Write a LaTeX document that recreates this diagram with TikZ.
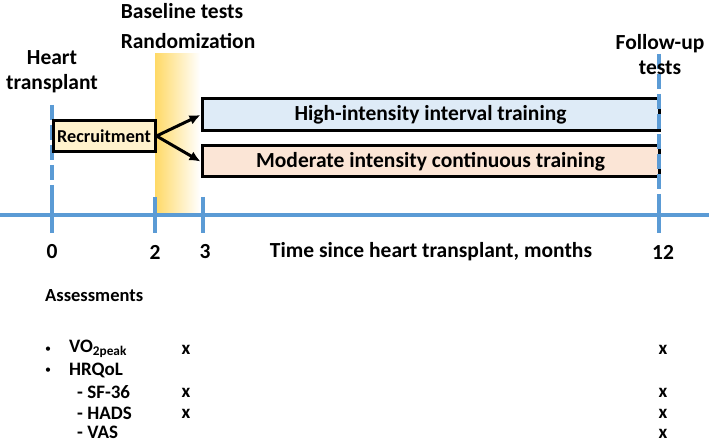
\documentclass[tikz,border=0pt]{standalone}
\usepackage{fontspec}
\setmainfont{Carlito}
\usepackage{xcolor}
\usetikzlibrary{arrows.meta}
\definecolor{achsblau}{HTML}{5B9BD5}
\definecolor{rekrugelb}{HTML}{FFF2CC}
\definecolor{hiitblau}{HTML}{DEEBF7}
\definecolor{mictrosa}{HTML}{FBE5D6}
\definecolor{bandgelb}{HTML}{FFD966}

\begin{document}
\begin{tikzpicture}[x=1pt, y=-1pt,
    >={Latex[length=11pt, width=10pt]},   %Pfeilspitzen
    achse/.style={achsblau, line width=4pt},
    strich/.style={achsblau, line width=4pt, dash pattern=on 15pt off 5pt},
    kasten/.style={draw=black, line width=3pt, inner sep=0pt, font=\fontsize{21.5}{25}\selectfont\bfseries},
    gross/.style={font=\fontsize{21.5}{25}\selectfont\bfseries, inner sep=0pt, align=center},
    klein/.style={font=\fontsize{19}{22}\selectfont\bfseries, inner sep=0pt, anchor=west},
    punkt/.style={font=\fontsize{12}{14}\selectfont, inner sep=0pt}]
    \useasboundingbox (0,0) rectangle (709,443);
    %Randomisierungsband
    \shade[left color=bandgelb, right color=white] (155,54) rectangle (200,213);
    %Zeitachse zeichnen
    \draw[strich] (52,105) -- (52,197);
    \draw[achse] (0,215) -- (709,215);
    \foreach \x in {52,155,203,659} \draw[achse] (\x,197) -- (\x,233);
    % Achse beschriften
    \foreach \x/\t in {52/0,155/2,205/3,663/12} \node[gross] (t\t) at (\x,252) {\t};
    \node[gross] (zeit) at (431,252) {Time since heart transplant, months};
    % Kaesten
    \node[kasten, fill=rekrugelb, minimum width=102pt, minimum height=31pt, font=\fontsize{18.2}{22}\selectfont\bfseries] (rekru) at (104,136) {\raisebox{-1pt}{Recruitment}};
    \node[kasten, fill=hiitblau, minimum width=457pt, minimum height=32pt] (hiit) at (430.5,115) {\raisebox{-4pt}{High-intensity interval training}};
    \node[kasten, fill=mictrosa, minimum width=457pt, minimum height=31pt] (mict) at (430.5,161.5) {\raisebox{-3pt}{Moderate intensity continuous training}};
    \draw[->, line width=3pt] (rekru.east) -- (hiit.west);
    \draw[->, line width=3pt] (rekru.east) -- (mict.west);
    \draw[strich] (659,54) -- (659,197);
    %Beschriftung oben
    \node[gross] (herz) at (52,72) {Heart\\transplant};
    \node[gross] (base) at (182,11) {Baseline tests};
    \node[gross] (rand) at (188,41) {Randomization};
    \node[gross] (folge) at (660,55) {Follow-up\\tests};
    %Untersuchungen
    \node[klein, font=\fontsize{18.5}{22}\selectfont\bfseries] (unters) at (45,296) {Assessments};
    \node[punkt] (b1) at (48,350) {•};
    \node[punkt] (b2) at (48,371) {•};
    \node[klein] (vo) at (69,349) {VO\textsubscript{2peak}};
    \node[klein] (hrq) at (69,370) {HRQoL};
    \node[klein] (sf) at (77,392) {- SF-36};
    \node[klein] (hads) at (77,413) {- HADS};
    \node[klein] (vas) at (77,432) {- VAS};
    \foreach \y/\n in {350/vo,393/sf,414/hads} \node[klein, anchor=center] (xa\n) at (186,\y) {x};
    \foreach \y/\n in {350/vo,393/sf,414/hads,434/vas} \node[klein, anchor=center] (xb\n) at (663,\y) {x};
\end{tikzpicture}
\end{document}
